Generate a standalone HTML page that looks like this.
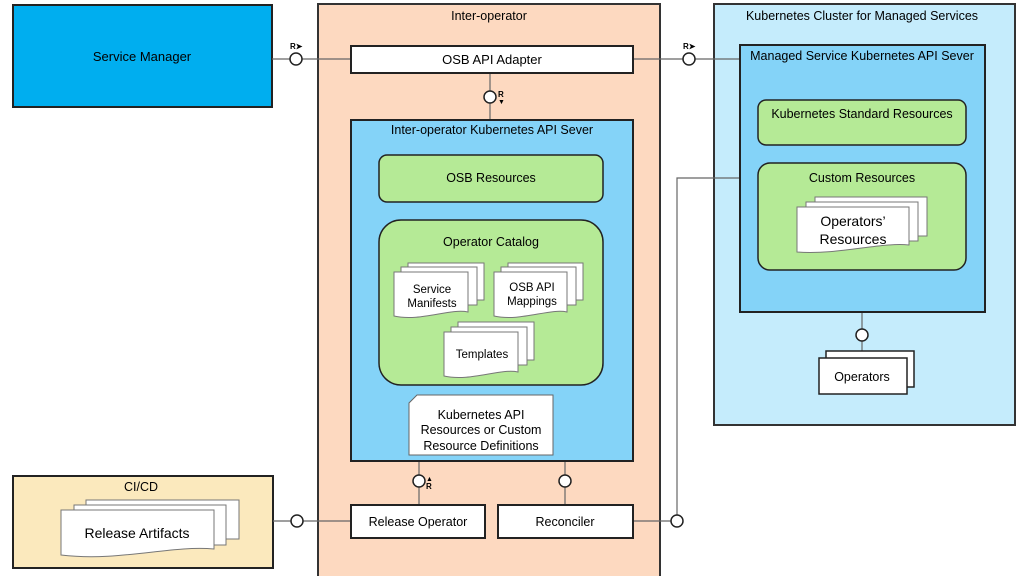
<!DOCTYPE html>
<html><head><meta charset="utf-8"><style>
html,body{margin:0;padding:0;background:#fff;}
svg{display:block;font-family:"Liberation Sans",Arial,sans-serif;}
</style></head><body>
<svg width="1024" height="576" viewBox="0 0 1024 576" xmlns="http://www.w3.org/2000/svg">
<!-- Service Manager -->
<rect x="13" y="5" width="259" height="102" fill="#00aeef" stroke="#222" stroke-width="2"/>
<text x="142" y="61" font-size="13" text-anchor="middle">Service Manager</text>
<!-- CI/CD -->
<rect x="13" y="476" width="260" height="92" fill="#fbe9bd" stroke="#222" stroke-width="2"/>
<text x="141" y="491" font-size="12.5" text-anchor="middle">CI/CD</text>
<g fill="#fff" stroke="#777" stroke-width="1">
<path d="M86 500 H239 V539 H86 Z"/>
<path d="M74 505 H226 V545 H74 Z"/>
<path d="M61 510 H214 V549 C170 545 120 562 61 555 Z"/>
</g>
<text x="137" y="538" font-size="14" text-anchor="middle">Release Artifacts</text>
<!-- Inter-operator -->
<rect x="318" y="4" width="342" height="580" fill="#fdd9c0" stroke="#333" stroke-width="2"/>
<text x="489" y="20" font-size="12.5" text-anchor="middle">Inter-operator</text>
<!-- K8s cluster -->
<rect x="714" y="4" width="301" height="421" fill="#c5ecfc" stroke="#333" stroke-width="2"/>
<text x="862" y="20" font-size="12.5" text-anchor="middle">Kubernetes Cluster for Managed Services</text>
<!-- connectors -->
<g stroke="#666" stroke-width="1.2" fill="none">
<line x1="272" y1="59" x2="351" y2="59"/>
<line x1="633" y1="59" x2="741" y2="59"/>
<line x1="273" y1="521" x2="351" y2="521"/>
<polyline points="633,521 677,521 677,178 741,178"/>
<line x1="490" y1="73" x2="490" y2="120"/>
<line x1="419" y1="461" x2="419" y2="505"/>
<line x1="565" y1="461" x2="565" y2="505"/>
<line x1="862" y1="312" x2="862" y2="355"/>
</g>
<rect x="351" y="46" width="282" height="27" fill="#fff" stroke="#222" stroke-width="2"/>
<text x="492" y="64" font-size="13" text-anchor="middle">OSB API Adapter</text>
<rect x="351" y="120" width="282" height="341" fill="#84d3f8" stroke="#222" stroke-width="2"/>
<text x="492" y="134" font-size="12.5" text-anchor="middle">Inter-operator Kubernetes API Sever</text>
<rect x="379" y="155" width="224" height="47" rx="8" fill="#b5ea96" stroke="#222" stroke-width="1.5"/>
<text x="491" y="182" font-size="12.5" text-anchor="middle">OSB Resources</text>
<rect x="379" y="220" width="224" height="165" rx="22" fill="#b5ea96" stroke="#222" stroke-width="1.5"/>
<text x="491" y="246" font-size="12.5" text-anchor="middle">Operator Catalog</text>
<g fill="#fff" stroke="#777" stroke-width="1">
<path d="M408 263 H484 V300 H408 Z"/><path d="M401 267 H477 V305 H401 Z"/>
<path d="M394 272 H468 V312 C450 308 420 322 394 316 Z"/>
<path d="M508 263 H583 V300 H508 Z"/><path d="M501 267 H576 V305 H501 Z"/>
<path d="M494 272 H567 V312 C550 308 520 322 494 316 Z"/>
<path d="M458 322 H534 V360 H458 Z"/><path d="M451 327 H527 V365 H451 Z"/>
<path d="M444 332 H518 V372 C500 368 470 382 444 376 Z"/>
</g>
<g font-size="11.5" text-anchor="middle">
<text x="432" y="293">Service</text><text x="432" y="307">Manifests</text>
<text x="532" y="291">OSB API</text><text x="532" y="305">Mappings</text>
<text x="482" y="358">Templates</text>
</g>
<path d="M417 395 H553 V455 H409 V403 Z" fill="#fff" stroke="#666" stroke-width="1"/>
<g font-size="12.5" text-anchor="middle">
<text x="481" y="419">Kubernetes API</text>
<text x="481" y="434">Resources or Custom</text>
<text x="481" y="450">Resource Definitions</text>
</g>
<rect x="351" y="505" width="134" height="33" fill="#fff" stroke="#222" stroke-width="2"/>
<text x="418" y="526" font-size="12.5" text-anchor="middle">Release Operator</text>
<rect x="498" y="505" width="135" height="33" fill="#fff" stroke="#222" stroke-width="2"/>
<text x="565" y="526" font-size="12.5" text-anchor="middle">Reconciler</text>
<rect x="740" y="45" width="245" height="267" fill="#84d3f8" stroke="#222" stroke-width="2"/>
<text x="862" y="60" font-size="12.5" text-anchor="middle">Managed Service Kubernetes API Sever</text>
<rect x="758" y="100" width="208" height="45" rx="8" fill="#b5ea96" stroke="#222" stroke-width="1.5"/>
<text x="862" y="118" font-size="12.5" text-anchor="middle">Kubernetes Standard Resources</text>
<rect x="758" y="163" width="208" height="107" rx="12" fill="#b5ea96" stroke="#222" stroke-width="1.5"/>
<text x="862" y="182" font-size="12.5" text-anchor="middle">Custom Resources</text>
<g fill="#fff" stroke="#777" stroke-width="1">
<path d="M815 197 H927 V236 H815 Z"/><path d="M806 202 H918 V241 H806 Z"/>
<path d="M797 207 H909 V245 C880 242 840 255 797 252 Z"/>
</g>
<text x="853" y="226" font-size="14" text-anchor="middle">Operators’</text>
<text x="853" y="244" font-size="14" text-anchor="middle">Resources</text>
<rect x="826" y="351" width="88" height="36" fill="#fff" stroke="#222" stroke-width="1.5"/>
<rect x="819" y="358" width="88" height="36" fill="#fff" stroke="#222" stroke-width="1.5"/>
<text x="862" y="381" font-size="12.5" text-anchor="middle">Operators</text>
<!-- lollipops -->
<g fill="#fff" stroke="#222" stroke-width="1.5">
<circle cx="296" cy="59" r="6"/><circle cx="689" cy="59" r="6"/>
<circle cx="490" cy="97" r="6"/><circle cx="419" cy="481" r="6"/>
<circle cx="565" cy="481" r="6"/><circle cx="297" cy="521" r="6"/>
<circle cx="677" cy="521" r="6"/><circle cx="862" cy="335" r="6"/>
</g>
<g font-size="8" font-weight="bold">
<text x="290" y="49">R➤</text><text x="683" y="49">R➤</text>
<text x="498" y="97">R</text><text x="498" y="104" font-size="7">▼</text>
<text x="426" y="481" font-size="7">▲</text><text x="426" y="489">R</text>
</g>
</svg>
</body></html>
